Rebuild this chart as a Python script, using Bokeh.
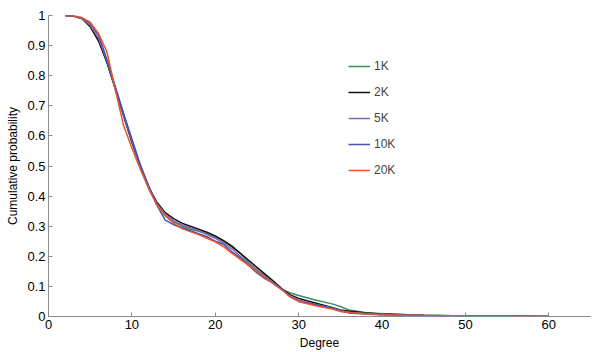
from bokeh.plotting import figure
from bokeh.models import Legend, LegendItem, FixedTicker, Range1d
from bokeh.embed import file_html
from bokeh.resources import INLINE

x_deg = [2, 3, 4, 5, 6, 7, 8, 9, 10, 11, 12, 13, 14, 15, 16, 17, 18, 19, 20, 21, 22, 23, 24,
         25, 26, 27, 28, 29, 30, 32, 34, 35, 36, 38, 40, 45, 50, 55, 60]

y_1k = [1.0, 0.998, 0.99, 0.965, 0.92, 0.845, 0.755, 0.665, 0.58, 0.5, 0.43, 0.375, 0.335, 0.315, 0.3,
        0.29, 0.283, 0.275, 0.265, 0.25, 0.235, 0.21, 0.18, 0.155, 0.135, 0.115, 0.09, 0.078, 0.07,
        0.055, 0.042, 0.033, 0.022, 0.013, 0.009, 0.004, 0.002, 0.001, 0.0]
y_2k = [1.0, 0.998, 0.99, 0.963, 0.915, 0.845, 0.76, 0.67, 0.58, 0.5, 0.43, 0.38, 0.345, 0.325, 0.31,
        0.3, 0.29, 0.28, 0.268, 0.252, 0.232, 0.21, 0.187, 0.163, 0.14, 0.117, 0.092, 0.072, 0.06,
        0.045, 0.03, 0.022, 0.018, 0.012, 0.008, 0.004, 0.002, 0.001, 0.0]
y_5k = [1.0, 0.998, 0.99, 0.968, 0.925, 0.85, 0.76, 0.67, 0.585, 0.5, 0.43, 0.375, 0.34, 0.318, 0.305,
        0.295, 0.285, 0.272, 0.26, 0.245, 0.225, 0.2, 0.175, 0.152, 0.132, 0.112, 0.09, 0.068, 0.055,
        0.04, 0.028, 0.02, 0.014, 0.01, 0.007, 0.003, 0.0015, 0.0008, 0.0]
y_10k = [1.0, 0.998, 0.992, 0.975, 0.935, 0.855, 0.765, 0.675, 0.59, 0.505, 0.435, 0.37, 0.32, 0.305, 0.295,
         0.285, 0.275, 0.265, 0.25, 0.24, 0.215, 0.195, 0.17, 0.145, 0.125, 0.11, 0.09, 0.065, 0.05,
         0.04, 0.028, 0.018, 0.012, 0.008, 0.006, 0.003, 0.0015, 0.0008, 0.0]
y_20k = [1.0, 0.999, 0.993, 0.978, 0.94, 0.88, 0.755, 0.635, 0.56, 0.49, 0.425, 0.37, 0.335, 0.31, 0.292,
         0.282, 0.272, 0.26, 0.248, 0.232, 0.21, 0.19, 0.17, 0.148, 0.128, 0.108, 0.088, 0.065, 0.05,
         0.036, 0.025, 0.017, 0.013, 0.009, 0.006, 0.003, 0.0015, 0.0008, 0.0]

series = [("1K", y_1k, "#3a8f5c"), ("2K", y_2k, "#111111"), ("5K", y_5k, "#8a63b8"),
          ("10K", y_10k, "#4b4fae"), ("20K", y_20k, "#e5572a")]

p = figure(width=600, height=352, output_backend="svg", toolbar_location=None,
           x_range=Range1d(0, 65), y_range=Range1d(0, 1),
           min_border_left=48, min_border_right=10, min_border_top=15, min_border_bottom=36)
p.outline_line_color = None
p.grid.grid_line_color = None
p.background_fill_color = "white"

items = []
for name, ys, col in series:
    r = p.line(x_deg, ys, line_color=col, line_width=1.5)
    items.append(LegendItem(label=name, renderers=[r]))

legend = Legend(items=items, location=(300, 136), border_line_color=None,
                background_fill_alpha=0, padding=0, margin=0, spacing=6,
                glyph_width=22, glyph_height=20, label_standoff=4, label_height=20,
                label_text_font="Liberation Sans", label_text_font_size="12px")
p.add_layout(legend, "center")

font = "Liberation Sans"
for ax in (p.xaxis[0], p.yaxis[0]):
    ax.axis_line_color = "#8a8a8a"
    ax.major_tick_line_color = "#8a8a8a"
    ax.major_tick_in = 4
    ax.major_tick_out = 0
    ax.minor_tick_line_color = None
    ax.major_label_text_font = font
    ax.major_label_text_font_size = "13px"
    ax.major_label_text_color = "black"
    ax.axis_label_text_font = font
    ax.axis_label_text_font_size = "12px"
    ax.axis_label_text_font_style = "normal"
    ax.axis_label_text_color = "black"

p.xaxis.ticker = FixedTicker(ticks=[0, 10, 20, 30, 40, 50, 60])
p.yaxis.ticker = FixedTicker(ticks=[0, 0.1, 0.2, 0.3, 0.4, 0.5, 0.6, 0.7, 0.8, 0.9, 1.0])
p.yaxis.major_label_overrides = {0: "0", 1: "1"}
p.xaxis.axis_label = "Degree"
p.yaxis.axis_label = "Cumulative probability"
p.xaxis.axis_label_standoff = 4
p.yaxis.axis_label_standoff = 4
p.xaxis.major_label_standoff = 3
p.yaxis.major_label_standoff = 3

open("out.html", "w").write(file_html(p, INLINE))
